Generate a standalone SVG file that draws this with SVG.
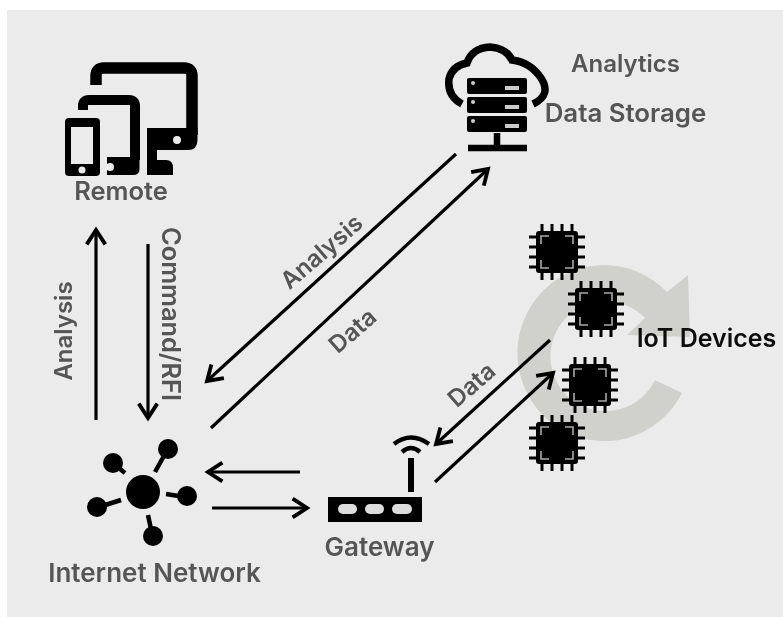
<svg xmlns="http://www.w3.org/2000/svg" width="783" height="617" viewBox="0 0 783 617">
<style>
text{font-family:"Inter","Noto Sans","Liberation Sans",sans-serif;font-weight:600;fill:#555;text-anchor:middle}
.c{fill:none;stroke:#000;stroke-width:3.2}
.ah{fill:none;stroke:#000;stroke-width:1.2}
</style>
<defs>
<filter id="soft" x="-5%" y="-5%" width="110%" height="110%"><feGaussianBlur stdDeviation="0.55"/></filter>
<marker id="arrow" markerUnits="strokeWidth" markerWidth="8" markerHeight="8" viewBox="-6 -4 8 8" refX="0" refY="0" orient="auto"><path class="ah" d="M-4.5,-2.9L0,0L-4.5,2.9"/></marker>
<g id="chip">
<path d="M-28,-15H28M-28,-5H28M-28,5H28M-28,15H28M-15,-28V28M-5,-28V28M5,-28V28M15,-28V28" stroke="#000" stroke-width="3" fill="none"/>
<rect x="-21" y="-21" width="42" height="42" rx="3" fill="#000"/>
<path d="M-16,-8V-16H-8M8,-16H16V-8M16,8V16H8M-8,16H-16V8" fill="none" stroke="#aaa" stroke-width="1.6"/>
</g>
</defs>
<rect width="783" height="617" fill="#fff"/>
<rect x="7" y="10" width="776" height="607" fill="#ebebeb"/>
<g filter="url(#soft)">
<g id="cycle"><path d="M682,393A87,88 0 1 1 667,292L688,275L690,337L627,335L645,318A55,55 0 1 0 655,380Z" fill="#d0d0cc"/></g>
<g id="connectors">
<path class="c" marker-end="url(#arrow)" d="M96,420V230"/>
<path class="c" marker-end="url(#arrow)" d="M148,244V418"/>
<path class="c" marker-end="url(#arrow)" d="M456,154L207,381"/>
<path class="c" marker-end="url(#arrow)" d="M211,428L488,169"/>
<path class="c" marker-end="url(#arrow)" d="M300,472H208"/>
<path class="c" marker-end="url(#arrow)" d="M212,508H307"/>
<path class="c" marker-end="url(#arrow)" d="M550,340L436,444"/>
<path class="c" marker-end="url(#arrow)" d="M435,482L553,373"/>
</g>
<g id="remote">
<path d="M96,85V76Q96,68 104,68H184Q192,68 192,76V135" fill="none" stroke="#000" stroke-width="11.5"/>
<path d="M147,128H197.5V140Q197.5,150 188,150H157V160H166Q173,160 173,168V175H147Z" fill="#000"/>
<circle cx="177" cy="140" r="4" fill="#ebebeb"/>
<path d="M83,110V106Q83,100 89,100H129Q135,100 135,106V160" fill="none" stroke="#000" stroke-width="10"/>
<path d="M107,157H139.500V169Q139.500,175 133,175H107Z" fill="#000"/>
<circle cx="110" cy="167" r="4" fill="#ebebeb"/>
<rect x="65" y="118" width="35" height="58" rx="4" fill="#000"/>
<rect x="71" y="127" width="22" height="37" fill="#ebebeb"/>
<circle cx="82" cy="170" r="3.5" fill="#ebebeb"/>
<text x="121" y="200" font-size="25.500">Remote</text>
</g>
<g id="storage">
<path d="M462,104Q447,96 449,79Q452,66 467,63Q472,48 490,47Q506,48 512,60Q530,62 541,78Q552,95 533,104" fill="none" stroke="#000" stroke-width="7.5"/>
<rect x="467" y="78" width="60" height="16" rx="2" fill="#000"/>
<rect x="467" y="97" width="60" height="16" rx="2" fill="#000"/>
<rect x="467" y="116" width="60" height="16" rx="2" fill="#000"/>
<path d="M505,88H519M505,107H519M505,126H519" stroke="#ccc" stroke-width="4"/>
<circle cx="473" cy="83" r="2" fill="#ccc"/><circle cx="473" cy="102" r="2" fill="#ccc"/><circle cx="473" cy="121" r="2" fill="#ccc"/>
<path d="M497,133V147M468,148H527" stroke="#000" stroke-width="6.500" fill="none"/>
<text x="625.500" y="72" font-size="24">Analytics</text>
<text x="625.500" y="122" font-size="25.800">Data Storage</text>
</g>
<g id="iot">
<use href="#chip" x="557" y="252"/>
<use href="#chip" x="596" y="309"/>
<use href="#chip" x="590" y="385"/>
<use href="#chip" x="557" y="443"/>
<text x="706.500" y="347" font-size="25" style="fill:#111">IoT Devices</text>
</g>
<g id="network">
<circle cx="143" cy="492" r="17" fill="#000"/>
<circle cx="168" cy="449" r="10"/><circle cx="113" cy="463" r="10"/><circle cx="187" cy="496" r="10"/><circle cx="97" cy="507" r="10"/><circle cx="153" cy="536" r="10"/>
<path d="M155,472L165,454M125,473L114,464M166,494L185,497M121,500L99,507M148,515L152,534" stroke="#000" stroke-width="4.500" fill="none"/>
<text x="154.500" y="582" font-size="26">Internet Network</text>
</g>
<g id="gateway">
<rect x="328" y="497" width="94" height="25" fill="#000"/>
<rect x="338" y="504" width="19" height="10" rx="5" fill="#ddd"/><rect x="365" y="504" width="19" height="10" rx="5" fill="#ddd"/><rect x="392" y="504" width="20" height="10" rx="5" fill="#ddd"/>
<path d="M411,492V458" stroke="#000" stroke-width="6" fill="none"/>
<path d="M394,444Q411,431 429,444M402,452Q411,444 420,452" stroke="#000" stroke-width="4.500" fill="none"/>
<text x="379.500" y="556" font-size="26">Gateway</text>
</g>
<g id="labels">
<text font-size="24" transform="translate(72,331) rotate(-90)">Analysis</text>
<text font-size="25.400" transform="translate(162,314) rotate(90)">Command/RFI</text>
<text font-size="24" transform="translate(327,258) rotate(-41)">Analysis</text>
<text font-size="24" transform="translate(358,337) rotate(-41)">Data</text>
<text font-size="24" transform="translate(477,391) rotate(-41)">Data</text>
</g>
</g>
</svg>
